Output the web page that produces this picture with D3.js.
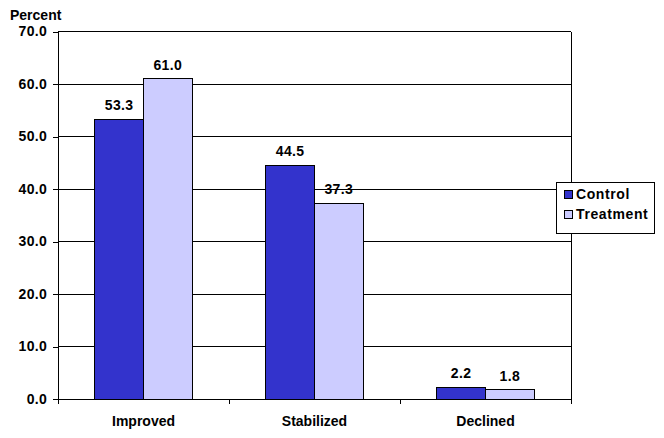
<!DOCTYPE html>
<html><head><meta charset="utf-8">
<script src="https://cdn.jsdelivr.net/npm/d3@7"></script>
<style>body{margin:0;background:#fff}svg{display:block}text{font-family:"Liberation Sans",Arial,sans-serif;font-weight:bold;fill:#000}</style>
</head><body>
<script>
const categories = ["Improved", "Stabilized", "Declined"];
const seriesNames = ["Control", "Treatment"];
const control = [53.3, 44.5, 2.2];
const treatment = [61.0, 37.3, 1.8];
const yTicks = [0, 10, 20, 30, 40, 50, 60, 70];
const colors = ["#3333CC", "#CCCCFF"];

const W = 664, H = 438;
const svg = d3.select("body").append("svg").attr("width", W).attr("height", H);
const pLeft = 58, pRight = 571, pTop = 31.5, pBottom = 399;

const x = d3.scaleBand().domain(categories).range([pLeft, pRight]).paddingInner(0).paddingOuter(0);
const xs = d3.scaleBand().domain(seriesNames).range([0, x.bandwidth()]).paddingInner(0).paddingOuter(0.755);
const y = d3.scaleLinear().domain([0, 70]).range([pBottom, pTop]);

// gridlines
svg.append("g").selectAll("line").data(yTicks.filter(d => d > 0)).join("line")
  .attr("x1", pLeft).attr("x2", pRight).attr("y1", d => y(d)).attr("y2", d => y(d))
  .attr("stroke", "#000").attr("stroke-width", 1).attr("shape-rendering", "crispEdges");
// right border
svg.append("line").attr("x1", pRight).attr("x2", pRight).attr("y1", pTop).attr("y2", pBottom)
  .attr("stroke", "#000").attr("shape-rendering", "crispEdges");

// bars
const data = categories.map((c, i) => ({c, vals: [control[i], treatment[i]]}));
const g = svg.append("g").selectAll("g").data(data).join("g").attr("transform", d => `translate(${x(d.c)},0)`);
g.selectAll("rect").data(d => d.vals.map((v, j) => ({v, s: seriesNames[j], j}))).join("rect")
  .attr("x", d => xs(d.s)).attr("width", xs.bandwidth())
  .attr("y", d => y(d.v)).attr("height", d => y(0) - y(d.v))
  .attr("fill", d => colors[d.j]).attr("stroke", "#000").attr("stroke-width", 1)
  .attr("shape-rendering", "crispEdges");
g.selectAll("text").data(d => d.vals.map((v, j) => ({v, s: seriesNames[j]}))).join("text")
  .attr("x", d => xs(d.s) + xs.bandwidth() / 2).attr("y", d => y(d.v) - 9)
  .attr("text-anchor", "middle").attr("font-size", 14).attr("letter-spacing", 0.4).text(d => d.v.toFixed(1));

// y axis
const yAxis = d3.axisLeft(y).tickValues(yTicks).tickFormat(d => d.toFixed(1)).tickSize(5).tickPadding(6);
const ya = svg.append("g").attr("transform", `translate(${pLeft},0)`).call(yAxis);
ya.select(".domain").remove();
ya.selectAll("line").attr("stroke", "#000").attr("shape-rendering", "crispEdges");
ya.selectAll("text").attr("font-size", 14).attr("letter-spacing", 0.3).attr("font-family", "Liberation Sans, Arial, sans-serif").attr("font-weight", "bold").attr("fill", "#000");
svg.append("line").attr("x1", pLeft).attr("x2", pLeft).attr("y1", pTop).attr("y2", pBottom)
  .attr("stroke", "#000").attr("shape-rendering", "crispEdges");

// x axis
const xAxis = d3.axisBottom(x).tickSize(0).tickPadding(0);
const xa = svg.append("g").attr("transform", `translate(0,${pBottom})`).call(xAxis);
xa.select(".domain").attr("stroke", "#000").attr("shape-rendering", "crispEdges");
xa.selectAll("text").attr("y", 27).attr("dy", 0).attr("font-size", 14)
  .attr("font-family", "Liberation Sans, Arial, sans-serif").attr("font-weight", "bold").attr("fill", "#000");
const bounds = categories.map(c => x(c)).concat([pRight]);
svg.append("g").selectAll("line").data(bounds).join("line")
  .attr("x1", d => d).attr("x2", d => d).attr("y1", pBottom).attr("y2", pBottom + 5)
  .attr("stroke", "#000").attr("shape-rendering", "crispEdges");

// y title
svg.append("text").attr("x", 10).attr("y", 19.5).attr("font-size", 14).text("Percent");

// legend
const lg = svg.append("g");
lg.append("rect").attr("x", 556.5).attr("y", 182.5).attr("width", 97.5).attr("height", 51)
  .attr("fill", "#fff").attr("stroke", "#000").attr("shape-rendering", "crispEdges");
seriesNames.forEach((s, i) => {
  const yy = 190 + i * 20;
  lg.append("rect").attr("x", 564.5).attr("y", yy).attr("width", 8).attr("height", 8)
    .attr("fill", colors[i]).attr("stroke", "#000").attr("stroke-width", 1).attr("shape-rendering", "crispEdges");
  lg.append("text").attr("x", 576).attr("y", yy + 8.5).attr("font-size", 14).attr("letter-spacing", 0.6).text(s);
});
</script>
</body></html>
